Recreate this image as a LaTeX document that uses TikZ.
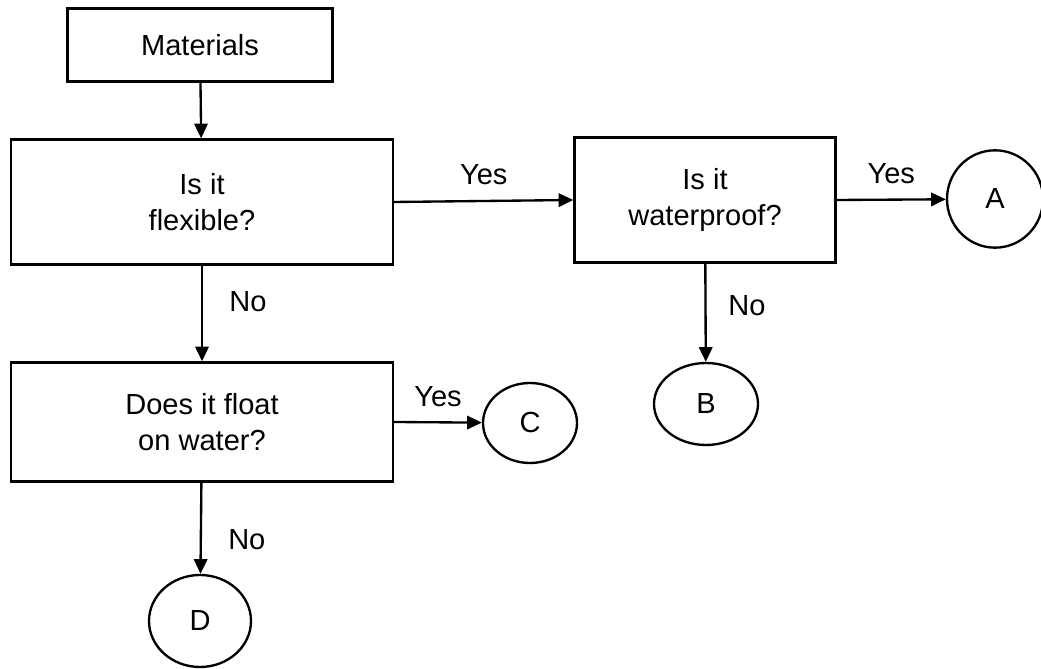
\documentclass[tikz,border=0pt]{standalone}
\usepackage{fontspec}
\setmainfont{Liberation Sans}
\usetikzlibrary{shapes.geometric}
\usetikzlibrary{arrows.meta}

\begin{document}
\begin{tikzpicture}[x=0.015cm, y=-0.015cm,
    font=\fontsize{12.4}{15.6}\selectfont, line width=1pt,
    box/.style={rectangle, draw, align=center, inner sep=0pt},
    leaf/.style={ellipse, draw, inner sep=0pt},
    flow/.style={-{Triangle[length=0.22cm, width=0.2cm]}}]
  \useasboundingbox (0, 0) rectangle (1041, 669);

  \node[box, minimum width=3.975cm, minimum height=1.095cm] (mat) at (200, 45) {Materials};
  \node[box, minimum width=5.73cm, minimum height=1.875cm] (flex) at (202, 202) {Is it\\flexible?};
  \node[box, minimum width=3.915cm, minimum height=1.875cm] (wat) at (705, 200) {Is it\\waterproof?};
  \node[box, minimum width=5.73cm, minimum height=1.785cm] (float) at (202, 422) {Does it float\\on water?};
  \node[leaf, minimum width=1.44cm, minimum height=1.46cm] (A) at (995, 199) {A};
  \node[leaf, minimum width=1.56cm, minimum height=1.23cm] (B) at (706, 404) {B};
  \node[leaf, minimum width=1.41cm, minimum height=1.2cm] (C) at (530, 423) {C};
  \node[leaf, minimum width=1.53cm, minimum height=1.38cm] (D) at (200, 621) {D};

  \draw[flow] (mat) -- (flex);
  \draw[flow] (flex.east) -- node[yshift=0.39cm] {Yes} (wat.west);
  \draw[flow] (wat.east) -- node[yshift=0.39cm] {Yes} (A);
  \draw[flow] (flex) -- node[pos=0.38, xshift=0.69cm] {No} (float);
  \draw[flow] (wat) -- node[pos=0.43, xshift=0.62cm] {No} (B);
  \draw[flow] (float.east) -- node[yshift=0.39cm] {Yes} (C);
  \draw[flow] (float) -- node[pos=0.62, xshift=0.69cm] {No} (D);
\end{tikzpicture}
\end{document}
